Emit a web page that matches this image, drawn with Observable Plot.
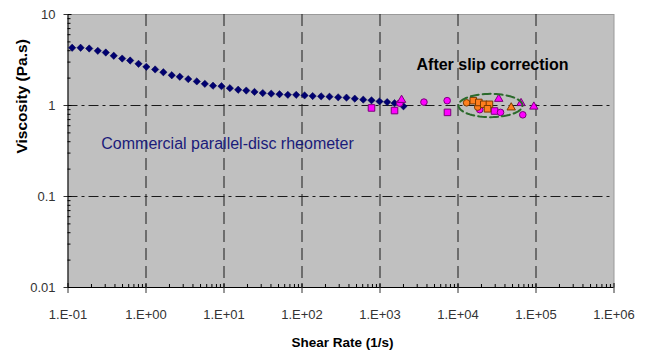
<!DOCTYPE html>
<html>
<head>
<meta charset="utf-8">
<script src="https://cdn.jsdelivr.net/npm/d3@7"></script>
<script src="https://cdn.jsdelivr.net/npm/@observablehq/plot@0.6"></script>
<style>
  html, body { margin: 0; padding: 0; background: #ffffff; }
  #chart svg { font-family: "Liberation Sans", Arial, sans-serif; }
</style>
</head>
<body>
<div id="chart"></div>
<script>
// ---- Data ----
// Commercial parallel-disc rheometer (navy diamonds)
const rheoShear = [0.113, 0.145, 0.187, 0.241, 0.305, 0.386, 0.495, 0.627, 0.802, 1.01,
  1.31, 1.67, 2.14, 2.71, 3.48, 4.48, 5.68, 7.23, 9.29, 11.9,
  15.2, 19.3, 24.6, 31.4, 40.3, 51.5, 65.8, 84.3, 108, 137,
  176, 225, 291, 372, 475, 610, 778, 986, 1236, 1535, 2000];
const rheoVisc = [4.31, 4.31, 4.23, 3.99, 3.82, 3.52, 3.28, 3.12, 2.87, 2.66,
  2.49, 2.32, 2.15, 2.07, 1.95, 1.84, 1.73, 1.65, 1.63, 1.55,
  1.49, 1.46, 1.41, 1.37, 1.35, 1.33, 1.31, 1.31, 1.29, 1.27,
  1.26, 1.25, 1.23, 1.22, 1.19, 1.16, 1.14, 1.11, 1.09, 1.06, 0.98];

// After slip correction (magenta series)
const pinkSquareShear = [778, 1535, 7330, 29400];
const pinkSquareVisc  = [0.94, 0.88, 0.84, 0.87];
const pinkCircleShear = [1795, 3660, 7260, 19000, 35100, 67700];
const pinkCircleVisc  = [1.06, 1.09, 1.13, 0.90, 0.84, 0.79];
const pinkTriangleShear = [1890, 33300, 64300, 93800];
const pinkTriangleVisc  = [1.15, 1.18, 1.06, 0.97];

// After slip correction (orange series)
const orangeSquareShear = [15700, 18500, 21400, 25300, 23900];
const orangeSquareVisc  = [1.13, 1.08, 1.03, 1.03, 0.92];
const orangeCircleShear = [12900, 17900];
const orangeCircleVisc  = [1.07, 0.96];
const orangeTriangleShear = [48100];
const orangeTriangleVisc  = [0.95];

// Axis ticks
const xTicks = [1e-1, 1e0, 1e1, 1e2, 1e3, 1e4, 1e5, 1e6];
const yTicks = [0.01, 0.1, 1, 10];
const xGrid = [1e0, 1e1, 1e2, 1e3, 1e4, 1e5];
const yGrid = [0.1, 1];

// Annotation texts
const labelRheometer = "Commercial parallel-disc rheometer";
const labelSlip = "After slip correction";
const xTitle = "Shear Rate (1/s)";
const yTitle = "Viscosity (Pa.s)";

// ---- Build tables ----
const zip = (xs, ys) => xs.map((x, i) => ({x, y: ys[i]}));
const rheo = zip(rheoShear, rheoVisc);
const pSq = zip(pinkSquareShear, pinkSquareVisc);
const pCi = zip(pinkCircleShear, pinkCircleVisc);
const pTr = zip(pinkTriangleShear, pinkTriangleVisc);
const oSq = zip(orangeSquareShear, orangeSquareVisc);
const oCi = zip(orangeCircleShear, orangeCircleVisc);
const oTr = zip(orangeTriangleShear, orangeTriangleVisc);

// minor log ticks
const minor = (lo, hi) => {
  const out = [];
  for (let e = lo; e < hi; e++) for (let m = 2; m <= 9; m++) out.push(m * Math.pow(10, e));
  return out;
};
const xMinor = minor(-1, 6);
const yMinor = minor(-2, 1);

// dashed ellipse around the clustered points (log-space ellipse)
const ellCx = Math.log10(26100), ellCy = Math.log10(1.0), ellRx = 0.41, ellRy = 0.128;
const ellipse = d3.range(0, 73).map(i => {
  const t = i / 72 * 2 * Math.PI;
  return {x: Math.pow(10, ellCx + ellRx * Math.cos(t)), y: Math.pow(10, ellCy + ellRy * Math.sin(t))};
});

const fmtX = d => {
  const e = Math.round(Math.log10(d));
  return "1.E" + (e < 0 ? "-" : "+") + String(Math.abs(e)).padStart(2, "0");
};

const pinkFill = "#ff00ff", pinkStroke = "#7a007a";
const orangeFill = "#ff7f1e", orangeStroke = "#7a3a00";

const chart = Plot.plot({
  width: 646,
  height: 354,
  marginLeft: 67.5,
  marginRight: 32.5,
  marginTop: 14,
  marginBottom: 67,
  x: {type: "log", domain: [0.1, 1e6]},
  y: {type: "log", domain: [0.01, 10]},
  style: {fontFamily: "'Liberation Sans', Arial, sans-serif", background: "#ffffff"},
  marks: [
    Plot.frame({fill: "#c0c0c0", stroke: "#9a9a9a"}),
    Plot.ruleX(xGrid, {stroke: "#1a1a1a", strokeDasharray: "12,6"}),
    Plot.ruleY(yGrid, {stroke: "#1a1a1a", strokeDasharray: "10,4,3,4"}),
    Plot.ruleX([0.1], {stroke: "#000"}),
    Plot.ruleY([0.01], {stroke: "#000"}),
    // axes
    Plot.axisX({ticks: xTicks, tickFormat: fmtX, tickSize: 6, tickPadding: 16, fontSize: 13, color: "#333", label: null}),
    Plot.axisX({ticks: xTicks, tickFormat: null, text: null, tickSize: -4, label: null}),
    Plot.axisX({ticks: xMinor, text: null, tickSize: -3, label: null}),
    Plot.axisY({ticks: yTicks, tickFormat: d => String(d), tickSize: 4, tickPadding: 8.5, fontSize: 13, color: "#333", label: null}),
    Plot.axisY({ticks: yTicks, text: null, tickSize: -4, label: null}),
    Plot.axisY({ticks: yMinor, text: null, tickSize: -3, label: null}),
    // data
    Plot.dot(rheo, {x: "x", y: "y", symbol: "diamond2", r: 3.3, fill: "#000070", stroke: "#000050", strokeWidth: 0.5}),
    Plot.dot(pSq, {x: "x", y: "y", symbol: "square", r: 3.7, fill: pinkFill, stroke: pinkStroke, strokeWidth: 1}),
    Plot.dot(pCi, {x: "x", y: "y", symbol: "circle", r: 3.3, fill: pinkFill, stroke: pinkStroke, strokeWidth: 1}),
    Plot.dot(pTr, {x: "x", y: "y", symbol: "triangle", r: 3.1, fill: pinkFill, stroke: pinkStroke, strokeWidth: 1}),
    Plot.dot(oCi, {x: "x", y: "y", symbol: "circle", r: 3.3, fill: orangeFill, stroke: orangeStroke, strokeWidth: 1}),
    Plot.dot(oSq, {x: "x", y: "y", symbol: "square", r: 3.7, fill: orangeFill, stroke: orangeStroke, strokeWidth: 1}),
    Plot.dot(oTr, {x: "x", y: "y", symbol: "triangle", r: 3.1, fill: orangeFill, stroke: orangeStroke, strokeWidth: 1}),
    Plot.line(ellipse, {x: "x", y: "y", stroke: "#2b6a2b", strokeWidth: 2, strokeDasharray: "8,4"}),
    // annotations
    Plot.text([labelRheometer], {x: 0.267, y: 0.382, text: d => d, textAnchor: "start", lineAnchor: "middle", fontSize: 16, fill: "#1b1b7a"}),
    Plot.text([labelSlip], {x: 27700, y: 2.82, text: d => d, textAnchor: "middle", lineAnchor: "middle", fontSize: 16, fontWeight: "bold", fill: "#000"}),
    Plot.text([xTitle], {frameAnchor: "bottom", text: d => d, dx: 1.5, dy: 55.5, lineAnchor: "middle", fontSize: 13.5, fontWeight: "bold", fill: "#000"}),
    Plot.text([yTitle], {frameAnchor: "left", text: d => d, rotate: -90, dx: -46, dy: 2.5, lineAnchor: "middle", fontSize: 15.5, fontWeight: "bold", fill: "#000"})
  ]
});
document.getElementById("chart").appendChild(chart);
</script>
</body>
</html>
